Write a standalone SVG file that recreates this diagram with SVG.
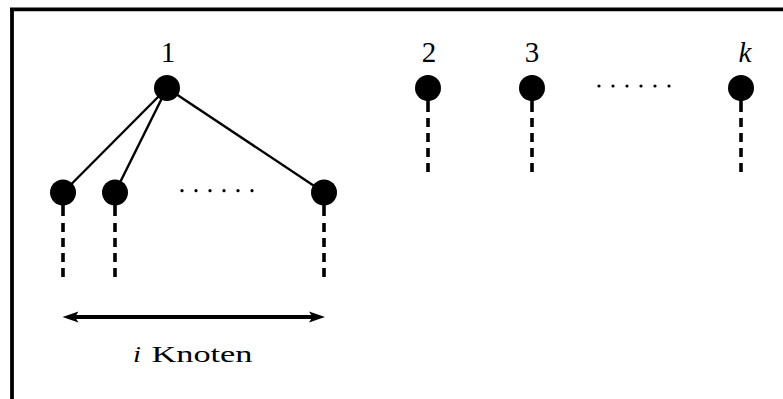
<svg xmlns="http://www.w3.org/2000/svg" width="783" height="399" viewBox="0 0 783 399">
<style>
.node{fill:#000}
.stem{stroke:#000;stroke-width:3.6;fill:none}
.dash{stroke:#000;stroke-width:3.6;fill:none;stroke-dasharray:9 6}
.edge{stroke:#000;stroke-width:2.4;fill:none}
.lbl{font-family:"Liberation Serif","DejaVu Serif",serif;font-size:29px;fill:#000;text-anchor:middle}
.dot{fill:#000}
</style>
<defs>
<path id="ah" d="M0,0 L-16,-5.5 L-12.5,0 L-16,5.5 Z" fill="#000"/>
<g id="dots6">
<circle class="dot" cx="0" cy="0" r="1.6"/><circle class="dot" cx="14" cy="0" r="1.6"/><circle class="dot" cx="28" cy="0" r="1.6"/><circle class="dot" cx="42" cy="0" r="1.6"/><circle class="dot" cx="56" cy="0" r="1.6"/><circle class="dot" cx="70" cy="0" r="1.6"/>
</g>
</defs>
<rect width="783" height="399" fill="#fff"/>
<g id="frame">
<path d="M10,9.3 H783 M12,7.5 V399" stroke="#000" stroke-width="3.8" fill="none"/>
</g>
<g id="connectors">
<line class="edge" x1="167" y1="88" x2="63" y2="192.5"/>
<line class="edge" x1="167" y1="88" x2="115" y2="192.5"/>
<line class="edge" x1="167" y1="88" x2="324" y2="192.5"/>
</g>
<g id="n1">
<text class="lbl" x="168" y="62">1</text>
<circle class="node" cx="167" cy="88" r="13"/>
</g>
<g id="n2">
<text class="lbl" x="429" y="62">2</text>
<circle class="node" cx="428" cy="88" r="13"/>
<line class="stem" x1="428" y1="95" x2="428" y2="112"/>
<line class="dash" x1="428" y1="118" x2="428" y2="174"/>
</g>
<g id="n3">
<text class="lbl" x="532" y="62">3</text>
<circle class="node" cx="532" cy="88" r="13"/>
<line class="stem" x1="532" y1="95" x2="532" y2="112"/>
<line class="dash" x1="532" y1="118" x2="532" y2="174"/>
</g>
<g id="dots-top"><use href="#dots6" x="599" y="86"/></g>
<g id="nk">
<text class="lbl" x="745" y="62" font-style="italic">k</text>
<circle class="node" cx="741" cy="88" r="13"/>
<line class="stem" x1="741" y1="95" x2="741" y2="112"/>
<line class="dash" x1="741" y1="118" x2="741" y2="174"/>
</g>
<g id="a">
<circle class="node" cx="63" cy="192.5" r="13"/>
<line class="stem" x1="63" y1="200" x2="63" y2="216"/>
<line class="dash" x1="63" y1="223" x2="63" y2="278"/>
</g>
<g id="b">
<circle class="node" cx="115" cy="192.5" r="13"/>
<line class="stem" x1="115" y1="200" x2="115" y2="216"/>
<line class="dash" x1="115" y1="223" x2="115" y2="278"/>
</g>
<g id="dots-bottom"><use href="#dots6" x="182" y="190.7"/></g>
<g id="c">
<circle class="node" cx="324" cy="192.5" r="13"/>
<line class="stem" x1="324" y1="200" x2="324" y2="216"/>
<line class="dash" x1="324" y1="223" x2="324" y2="278"/>
</g>
<g id="span">
<line x1="72" y1="317" x2="316" y2="317" stroke="#000" stroke-width="3.8"/>
<use href="#ah" transform="translate(62.5,317) rotate(180)"/>
<use href="#ah" transform="translate(325,317)"/>
<text font-family="'Liberation Serif','DejaVu Serif',serif" font-size="24" y="362" fill="#000"><tspan x="133" font-style="italic" textLength="8" lengthAdjust="spacingAndGlyphs">i</tspan><tspan x="151.5" textLength="101" lengthAdjust="spacingAndGlyphs">Knoten</tspan></text>
</g>
</svg>
